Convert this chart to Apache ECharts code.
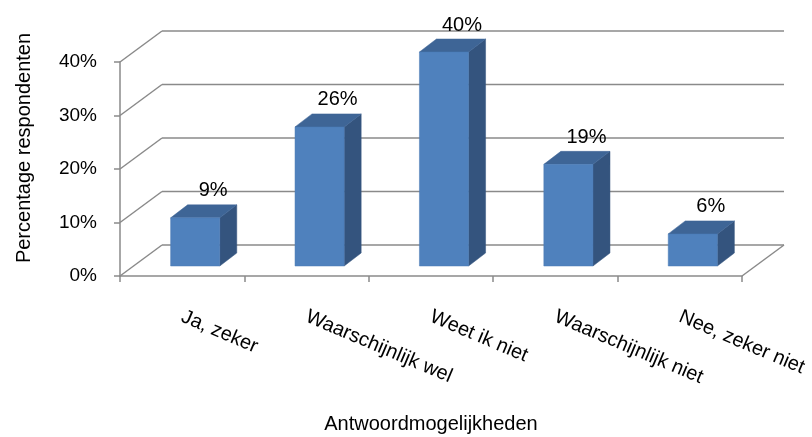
<!DOCTYPE html>
<html>
<head>
<meta charset="utf-8">
<script src="https://cdn.jsdelivr.net/npm/echarts@6/dist/echarts.min.js"></script>
<style>html,body{margin:0;padding:0;background:#fff}#chart{width:812px;height:437px}</style>
</head>
<body>
<div id="chart"></div>
<script>
var categories = ['Ja, zeker', 'Waarschijnlijk wel', 'Weet ik niet', 'Waarschijnlijk niet', 'Nee, zeker niet'];
var values = [9, 26, 40, 19, 6];
var yTicks = [0, 10, 20, 30, 40];
var xTitle = 'Antwoordmogelijkheden';
var yTitle = 'Percentage respondenten';

var FONT = '"Liberation Sans", Arial, sans-serif';
var GRID_COLOR = '#8a8a8a';
var DX = 42, DY = -31;          // wall depth
var BX = 13, BY = -10;          // bar front-face offset into depth
var SX = 17, SY = -13;          // bar depth
var BAR_FRAC = 0.395;

var chart = echarts.init(document.getElementById('chart'), null, {renderer: 'canvas'});

function renderWalls(params, api) {
  var v = api.value(0);
  var cs = params.coordSys;
  var x0 = cs.x, x1 = cs.x + cs.width;
  var y = api.coord([0, v])[1];
  var style = {stroke: GRID_COLOR, lineWidth: 1.5, fill: null};
  var children = [
    {type: 'line', shape: {x1: x0, y1: y, x2: x0 + DX, y2: y + DY}, style: style},
    {type: 'line', shape: {x1: x0 + DX, y1: y + DY, x2: x1 + DX, y2: y + DY}, style: style}
  ];
  if (v === 0) {
    children.push({type: 'line', shape: {x1: x1, y1: y, x2: x1 + DX, y2: y + DY}, style: style});
  }
  return {type: 'group', children: children};
}

function renderBars(params, api) {
  var i = api.value(0), v = api.value(1);
  var top = api.coord([i, v]);
  var base = api.coord([i, 0]);
  var w = api.size([1, 0])[0] * BAR_FRAC;
  var xl = top[0] + BX - w / 2, xr = top[0] + BX + w / 2;
  var yt = top[1] + BY, yb = base[1] + BY;
  return {
    type: 'group',
    children: [
      {type: 'polygon', shape: {points: [[xr, yt], [xr + SX, yt + SY], [xr + SX, yb + SY], [xr, yb]]},
        style: {fill: '#34547e', stroke: '#34547e', lineWidth: 0.5}},
      {type: 'polygon', shape: {points: [[xl, yt], [xl + SX, yt + SY], [xr + SX, yt + SY], [xr, yt]]},
        style: {fill: '#3e6596', stroke: '#3e6596', lineWidth: 0.5}},
      {type: 'rect', shape: {x: xl, y: yt, width: w, height: yb - yt},
        style: {fill: '#4f81bd', stroke: '#4a7ab4', lineWidth: 0.5}},
      {type: 'text', x: (xl + xr) / 2 + 18, y: yt - 27,
        style: {text: v + '%', fill: '#000', font: '20px ' + FONT, textAlign: 'center', textVerticalAlign: 'middle'}}
    ]
  };
}

var option = {
  animation: false,
  backgroundColor: '#fff',
  grid: {left: 120, right: 70, top: 62, bottom: 161, containLabel: false, outerBoundsMode: 'none'},
  xAxis: {
    type: 'category',
    data: categories,
    name: xTitle,
    nameLocation: 'middle',
    nameGap: 138,
    nameTextStyle: {fontSize: 20, fontFamily: FONT, color: '#000'},
    axisLine: {lineStyle: {color: GRID_COLOR, width: 1.5}},
    axisTick: {show: true, length: 6, lineStyle: {color: GRID_COLOR, width: 1.5}},
    axisLabel: {rotate: -23, margin: 40, fontSize: 20, fontFamily: FONT, color: '#000', interval: 0},
    splitLine: {show: false}
  },
  yAxis: {
    type: 'value',
    min: 0, max: 40, interval: 10,
    axisLine: {show: true, lineStyle: {color: GRID_COLOR, width: 1.5}},
    axisTick: {show: true, length: 6, lineStyle: {color: GRID_COLOR, width: 1.5}},
    axisLabel: {formatter: '{value}%', margin: 23, fontSize: 19, fontFamily: FONT, color: '#000'},
    splitLine: {show: false}
  },
  graphic: [{
    type: 'text', x: 24, y: 148, rotation: Math.PI / 2,
    style: {text: yTitle, fill: '#000', font: '20px ' + FONT, textAlign: 'center', textVerticalAlign: 'middle'}
  }],
  series: [
    {type: 'custom', renderItem: renderWalls, data: yTicks.map(function (t) { return [t]; }),
      encode: {y: 0}, z: 1, silent: true},
    {type: 'custom', renderItem: renderBars, data: values.map(function (v, i) { return [i, v]; }),
      encode: {x: 0, y: 1}, z: 3, silent: true}
  ]
};
chart.setOption(option);
</script>
</body>
</html>
